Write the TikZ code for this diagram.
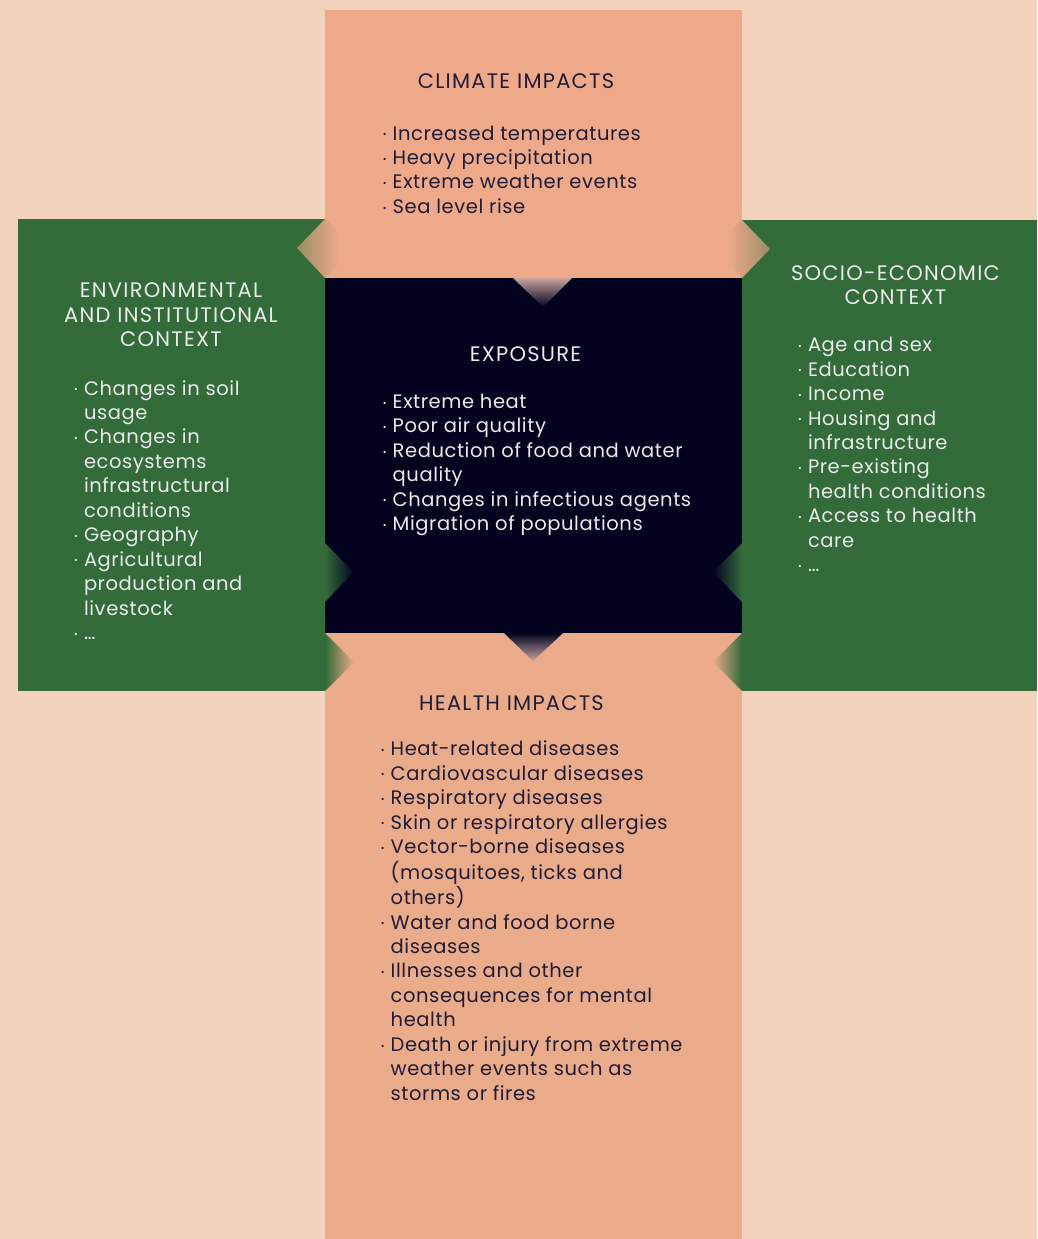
\documentclass[tikz,border=0pt]{standalone}
\usepackage{fontspec}
\setmainfont[LetterSpace=3]{Poppins}
\newfontfamily\ttlfont[LetterSpace=6]{Poppins}
\definecolor{bg}{HTML}{F3D2BC}
\definecolor{clim}{HTML}{EEA98A}
\definecolor{hlth}{HTML}{E9AB8A}
\definecolor{navy}{HTML}{02021F}
\definecolor{grn}{HTML}{336B3B}
\definecolor{dtxt}{HTML}{211C35}
\definecolor{ltxt}{HTML}{EAEAEA}
\definecolor{mauve}{HTML}{C8A3A0}
\definecolor{tipg}{HTML}{9A8D66}
\newcommand\bi{\makebox[10.5pt][l]{\hspace*{0.6pt}\raisebox{2.2pt}{\fontsize{9}{9}\selectfont •}}}
\newcommand\ci{\hspace*{10.5pt}}
\newcommand\lst[1]{\begin{tabular}[t]{@{}l@{}}#1\end{tabular}}
\newcommand\ctr[1]{\begin{tabular}[t]{@{}c@{}}#1\end{tabular}}
\begin{document}
\begin{tikzpicture}[x=1pt,y=-1pt,
  box/.style={draw=none,inner sep=0,outer sep=0,anchor=north west},
  txt/.style={inner sep=0,anchor=base west,font=\fontsize{19.5}{24.45}\selectfont},
  ttl/.style={inner sep=0,anchor=base,font=\ttlfont\fontsize{21}{24.45}\selectfont}]
\useasboundingbox (0,0) rectangle (1037,1239);
\fill[bg] (0,0) rectangle (1037,1239);
% boxes
\node[box,fill=grn,minimum width=307pt,minimum height=472pt] (env) at (18,219) {};
\node[box,fill=grn,minimum width=295pt,minimum height=471pt] (soc) at (742,220) {};
\node[box,fill=clim,minimum width=417pt,minimum height=268pt] (clim) at (325,10) {};
\node[box,fill=navy,minimum width=417pt,minimum height=355pt] (expo) at (325,278) {};
\node[box,fill=hlth,minimum width=417pt,minimum height=606pt] (hlth) at (325,633) {};
% arrows
\shade[left color=tipg,right color=clim] (297,248) -- (325,219) -- (339,232) -- (339,264) -- (325,278) -- cycle;
\shade[left color=clim,right color=tipg] (770,249) -- (742,220) -- (728,233) -- (728,265) -- (742,278) -- cycle;
\shade[top color=mauve,bottom color=navy] (513,278) -- (572,278) -- (543,307) -- cycle;
\shade[top color=navy,bottom color=mauve] (504,633) -- (563,633) -- (533,661) -- cycle;
\shade[left color=grn,right color=navy] (325,543) -- (354,572) -- (325,602) -- cycle;
\shade[left color=navy,right color=grn] (742,543) -- (713,572) -- (742,602) -- cycle;
\shade[left color=grn,right color=hlth] (325,633) -- (354,662) -- (325,691) -- cycle;
\shade[left color=hlth,right color=grn] (742,633) -- (713,662) -- (742,691) -- cycle;
% texts
\node[ttl,text=dtxt] (climT) at (516,88.3) {\ctr{CLIMATE IMPACTS}};
\node[txt,text=dtxt] (climL) at (382,140) {\lst{\bi Increased temperatures\\ \bi Heavy precipitation\\ \bi Extreme weather events\\ \bi Sea level rise}};
\node[ttl,text=ltxt] (expoT) at (525.5,361.7) {\ctr{EXPOSURE}};
\node[txt,text=ltxt] (expoL) at (382,408.3) {\lst{\bi Extreme heat\\ \bi Poor air quality\\ \bi Reduction of food and water\\ \ci quality\\ \bi Changes in infectious agents\\ \bi Migration of populations}};
\node[ttl,text=dtxt] (hlthT) at (511.5,710) {\ctr{HEALTH IMPACTS}};
\node[txt,text=dtxt] (hlthL) at (380,755.7) {\lst{\bi Heat-related diseases\\ \bi Cardiovascular diseases\\ \bi Respiratory diseases\\ \bi Skin or respiratory allergies\\ \bi Vector-borne diseases\\ \ci (mosquitoes, ticks and\\ \ci others)\\ \bi Water and food borne\\ \ci diseases\\ \bi Illnesses and other\\ \ci consequences for mental\\ \ci health\\ \bi Death or injury from extreme\\ \ci weather events such as\\ \ci storms or fires}};
\node[ttl,text=ltxt] (envT) at (171,297.7) {\ctr{ENVIRONMENTAL\\AND INSTITUTIONAL\\CONTEXT}};
\node[txt,text=ltxt] (envL) at (73.3,395) {\lst{\bi Changes in soil\\ \ci usage\\ \bi Changes in\\ \ci ecosystems\\ \ci infrastructural\\ \ci conditions\\ \bi Geography\\ \bi Agricultural\\ \ci production and\\ \ci livestock\\ \bi …}};
\node[ttl,text=ltxt] (socT) at (895.5,280) {\ctr{SOCIO-ECONOMIC\\CONTEXT}};
\node[txt,text=ltxt] (socL) at (797.3,351.7) {\lst{\bi Age and sex\\ \bi Education\\ \bi Income\\ \bi Housing and\\ \ci infrastructure\\ \bi Pre-existing\\ \ci health conditions\\ \bi Access to health\\ \ci care\\ \bi …}};
\end{tikzpicture}
\end{document}
